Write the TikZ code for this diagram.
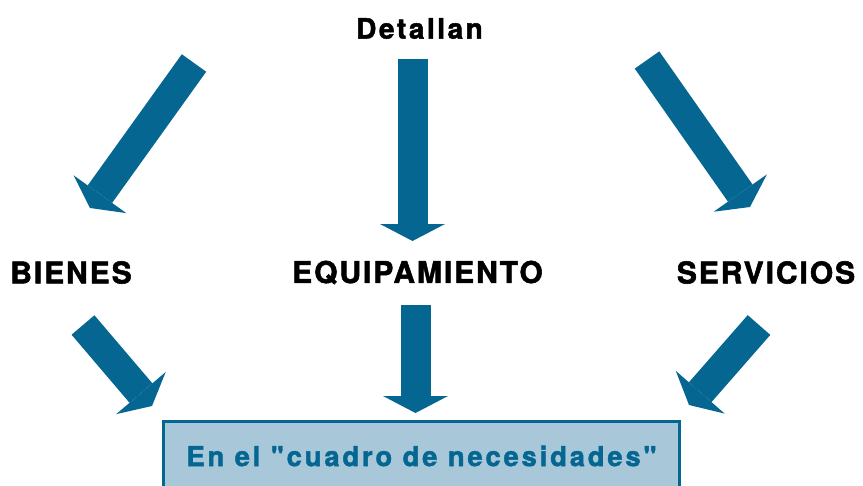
\documentclass[tikz,border=0pt]{standalone}
\usepackage{fontspec}
\setmainfont{TeX Gyre Heros}
\usetikzlibrary{arrows.meta}
\definecolor{azul}{RGB}{4,102,145}
\definecolor{celeste}{RGB}{168,200,217}

\begin{document}
\begin{tikzpicture}[x=0.75pt,y=-0.75pt,
    bigarrow/.style={draw=azul, line width=22.5pt,
      -{Triangle[width=48.75pt,length=12.75pt,line width=0pt]}},
    itemtext/.style={inner sep=0pt, font=\fontsize{22.5}{26}\selectfont\bfseries\addfontfeatures{LetterSpace=6.5,FakeBold=1.8}}]
    \clip (0,0) rectangle (863,485);
    \node [inner sep=0pt, font=\fontsize{21}{25}\selectfont\bfseries\addfontfeatures{LetterSpace=9,FakeBold=1.8}] (detallan) at (419.5,28.5) {Detallan};
    \node [itemtext] (bienes) at (71,272.5) {BIENES};
    \node [itemtext] (equipamiento) at (417.5,272.5) {EQUIPAMIENTO};
    \node [itemtext] (servicios) at (766,272.5) {SERVICIOS};
    \node [draw=azul, line width=2.25pt, fill=celeste, text=azul,
      minimum width=387pt, minimum height=51.75pt, inner sep=0pt,
      font=\fontsize{20.5}{24}\selectfont\bfseries\addfontfeatures{LetterSpace=10.5,FakeBold=1.6,Ligatures=TeXOff}]
      (cuadro) at (421.5,456) {En el "cuadro de necesidades"};
    % arrows below Detallan
    \coordinate (dtl) at (194,63);   \coordinate (bien1) at (90,208);
    \coordinate (dtc) at (412.5,59); \coordinate (equi1) at (412.5,241);
    \coordinate (dtr) at (647,60);   \coordinate (serv1) at (750,207);
    \draw [bigarrow] (dtl) -- (bien1);
    \draw [bigarrow] (dtc) -- (equi1);
    \draw [bigarrow] (dtr) -- (serv1);
    % arrows into the box
    \coordinate (bien2) at (83,325);    \coordinate (cul) at (152,406);
    \coordinate (equi2) at (415.5,305); \coordinate (cuc) at (415.5,413);
    \coordinate (serv2) at (759,325);   \coordinate (cur) at (689,405);
    \draw [bigarrow] (bien2) -- (cul);
    \draw [bigarrow] (equi2) -- (cuc);
    \draw [bigarrow] (serv2) -- (cur);
\end{tikzpicture}
\end{document}
